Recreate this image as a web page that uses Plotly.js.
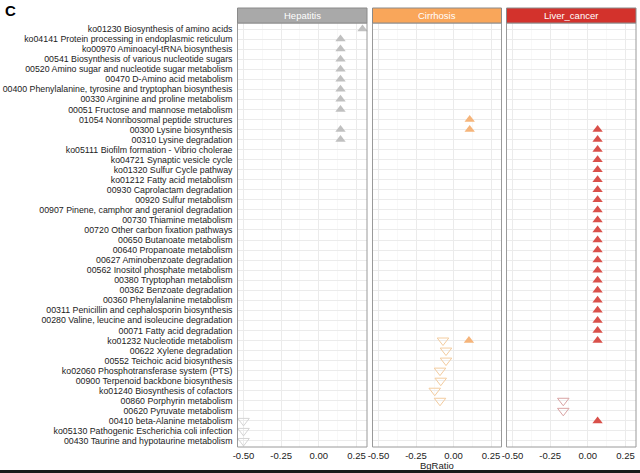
<!DOCTYPE html>
<html>
<head>
<meta charset="utf-8">
<script src="https://cdn.plot.ly/plotly-3.0.1.min.js"></script>
<style>html,body{margin:0;padding:0;background:#fff;}#chart{width:640px;height:473px;}</style>
</head>
<body>
<div id="chart"></div>
<script>
// ---- data ----
const categories = [
  "ko01230 Biosynthesis of amino acids",
  "ko04141 Protein processing in endoplasmic reticulum",
  "ko00970 Aminoacyl-tRNA biosynthesis",
  "00541 Biosynthesis of various nucleotide sugars",
  "00520 Amino sugar and nucleotide sugar metabolism",
  "00470 D-Amino acid metabolism",
  "00400 Phenylalanine, tyrosine and tryptophan biosynthesis",
  "00330 Arginine and proline metabolism",
  "00051 Fructose and mannose metabolism",
  "01054 Nonribosomal peptide structures",
  "00300 Lysine biosynthesis",
  "00310 Lysine degradation",
  "ko05111 Biofilm formation - Vibrio cholerae",
  "ko04721 Synaptic vesicle cycle",
  "ko01320 Sulfur Cycle pathway",
  "ko01212 Fatty acid metabolism",
  "00930 Caprolactam degradation",
  "00920 Sulfur metabolism",
  "00907 Pinene, camphor and geraniol degradation",
  "00730 Thiamine metabolism",
  "00720 Other carbon fixation pathways",
  "00650 Butanoate metabolism",
  "00640 Propanoate metabolism",
  "00627 Aminobenzoate degradation",
  "00562 Inositol phosphate metabolism",
  "00380 Tryptophan metabolism",
  "00362 Benzoate degradation",
  "00360 Phenylalanine metabolism",
  "00311 Penicillin and cephalosporin biosynthesis",
  "00280 Valine, leucine and isoleucine degradation",
  "00071 Fatty acid degradation",
  "ko01232 Nucleotide metabolism",
  "00622 Xylene degradation",
  "00552 Teichoic acid biosynthesis",
  "ko02060 Phosphotransferase system (PTS)",
  "00900 Terpenoid backbone biosynthesis",
  "ko01240 Biosynthesis of cofactors",
  "00860 Porphyrin metabolism",
  "00620 Pyruvate metabolism",
  "00410 beta-Alanine metabolism",
  "ko05130 Pathogenic Escherichia coli infection",
  "00430 Taurine and hypotaurine metabolism"
];
const panels = ["Hepatitis", "Cirrhosis", "Liver_cancer"];
const xTickVals = [-0.5, -0.25, 0, 0.25];
const xTickText = ["-0.50", "-0.25", "0.00", "0.25"];

// Hepatitis
const hepUpCats = categories.slice(0, 9).concat(["00300 Lysine biosynthesis", "00310 Lysine degradation"]);
const hepUpVals = [0.29, 0.144, 0.144, 0.144, 0.144, 0.144, 0.144, 0.144, 0.144, 0.144, 0.144];
const hepDownCats = ["00410 beta-Alanine metabolism", "ko05130 Pathogenic Escherichia coli infection", "00430 Taurine and hypotaurine metabolism"];
const hepDownVals = [-0.5, -0.5, -0.5];

// Cirrhosis
const cirUpCats = ["01054 Nonribosomal peptide structures", "00300 Lysine biosynthesis", "ko01232 Nucleotide metabolism"];
const cirUpVals = [0.108, 0.108, 0.103];
const cirDownCats = ["ko01232 Nucleotide metabolism", "00622 Xylene degradation", "00552 Teichoic acid biosynthesis",
  "ko02060 Phosphotransferase system (PTS)", "00900 Terpenoid backbone biosynthesis",
  "ko01240 Biosynthesis of cofactors", "00860 Porphyrin metabolism"];
const cirDownVals = [-0.07, -0.05, -0.05, -0.09, -0.085, -0.125, -0.09];

// Liver cancer
const livUpCats = categories.slice(10, 32).concat(["00410 beta-Alanine metabolism"]);
const livUpVals = [0.065, 0.065, 0.065, 0.065, 0.065, 0.065, 0.065, 0.065, 0.065, 0.065, 0.065,
  0.065, 0.065, 0.065, 0.065, 0.065, 0.065, 0.065, 0.065, 0.065, 0.065, 0.065, 0.065];
const livDownCats = ["00860 Porphyrin metabolism", "00620 Pyruvate metabolism"];
const livDownVals = [-0.163, -0.163];

// ---- styling ----
const FONT = "Liberation Sans, Arial, Helvetica, sans-serif";
const W = 640, H = 473;
const px = v => v / W;
const py = v => 1 - v / H;
const domains = [[px(237.5), px(367)], [px(372.5), px(501.5)], [px(506.5), px(636)]];
const stripFill = ["#A9A9A9", "#F9A65A", "#D3322C"];
const upColor = ["#C0C0C0", "#F5B47A", "#D9504A"];
const downColor = ["#D4D4D4", "#F3CC9F", "#D9A3A3"];

function upTrace(xs, ys, i) {
  return { type: "scatter", mode: "markers", x: xs, y: ys,
    xaxis: i === 0 ? "x" : "x" + (i + 1), yaxis: "y",
    marker: { symbol: "triangle-up", size: 9, color: upColor[i], line: { width: 0 } },
    hoverinfo: "x+y", showlegend: false, cliponaxis: false };
}
function downTrace(xs, ys, i) {
  return { type: "scatter", mode: "markers", x: xs, y: ys,
    xaxis: i === 0 ? "x" : "x" + (i + 1), yaxis: "y",
    marker: { symbol: "triangle-down-open", size: 10, color: downColor[i], line: { width: 1, color: downColor[i] } },
    hoverinfo: "x+y", showlegend: false, cliponaxis: false };
}

const traces = [
  upTrace(hepUpVals, hepUpCats, 0), downTrace(hepDownVals, hepDownCats, 0),
  upTrace(cirUpVals, cirUpCats, 1), downTrace(cirDownVals, cirDownCats, 1),
  upTrace(livUpVals, livUpCats, 2), downTrace(livDownVals, livDownCats, 2)
];

const layout = {
  width: W, height: H,
  margin: { l: 0, r: 0, t: 0, b: 0 },
  paper_bgcolor: "#ffffff", plot_bgcolor: "#ffffff",
  font: { family: FONT, color: "#222222" },
  showlegend: false,
  yaxis: {
    type: "category", categoryorder: "array", categoryarray: categories,
    tickmode: "array", tickvals: categories, ticktext: categories,
    range: [41.6, -0.6], domain: [py(447), py(23)], anchor: "x",
    showgrid: true, gridcolor: "#EBEBEB", gridwidth: 1,
    zeroline: false, showline: false, ticks: "", automargin: false,
    tickfont: { size: 8.8, color: "#222222", family: FONT }, ticklabelstandoff: 4
  },
  shapes: [], annotations: []
};

panels.forEach((p, i) => {
  const key = i === 0 ? "xaxis" : "xaxis" + (i + 1);
  layout[key] = {
    domain: domains[i], range: [-0.54, 0.32], anchor: "y",
    tickmode: "array", tickvals: xTickVals, ticktext: xTickText,
    showgrid: true, gridcolor: "#EBEBEB", gridwidth: 1,
    minor: { tickmode: "array", tickvals: [-0.375, -0.125, 0.125], showgrid: true, gridcolor: "#F3F3F3", gridwidth: 0.6, ticks: "" },
    zeroline: false, showline: false, ticks: "", automargin: false,
    tickfont: { size: 9.5, color: "#222222", family: FONT }, ticklabelstandoff: 1
  };
  const xd = (i === 0 ? "x" : "x" + (i + 1)) + " domain";
  // panel border
  layout.shapes.push({ type: "rect", xref: xd, yref: "y domain", x0: 0, x1: 1, y0: 0, y1: 1,
    line: { color: "#9A9A9A", width: 1 }, fillcolor: "rgba(0,0,0,0)", layer: "above" });
  // strip
  layout.shapes.push({ type: "rect", xref: xd, yref: "paper", x0: 0, x1: 1, y0: py(23), y1: py(8),
    line: { color: "#8A8A8A", width: 1 }, fillcolor: stripFill[i], layer: "above" });
  layout.annotations.push({ xref: xd, yref: "paper", x: 0.5, y: py(15.5), text: p, showarrow: false,
    xanchor: "center", yanchor: "middle", font: { size: 9.5, color: "#FFFFFF", family: FONT } });
});

// x axis title
layout.annotations.push({ xref: "x2 domain", yref: "paper", x: 0.5, y: py(465), text: "BgRatio", showarrow: false,
  xanchor: "center", yanchor: "middle", font: { size: 9.5, color: "#222222", family: FONT } });
// panel tag
layout.annotations.push({ xref: "paper", yref: "paper", x: px(3), y: py(10), text: "<b>C</b>", showarrow: false,
  xanchor: "left", yanchor: "middle", font: { size: 15, color: "#000000", family: FONT } });
// bottom dark edge
layout.shapes.push({ type: "rect", xref: "paper", yref: "paper", x0: 0, x1: 1, y0: 0, y1: 3 / H,
  line: { width: 0 }, fillcolor: "#1A1A1A", layer: "above" });

Plotly.newPlot("chart", traces, layout, { displayModeBar: false, staticPlot: true });
</script>
</body>
</html>
